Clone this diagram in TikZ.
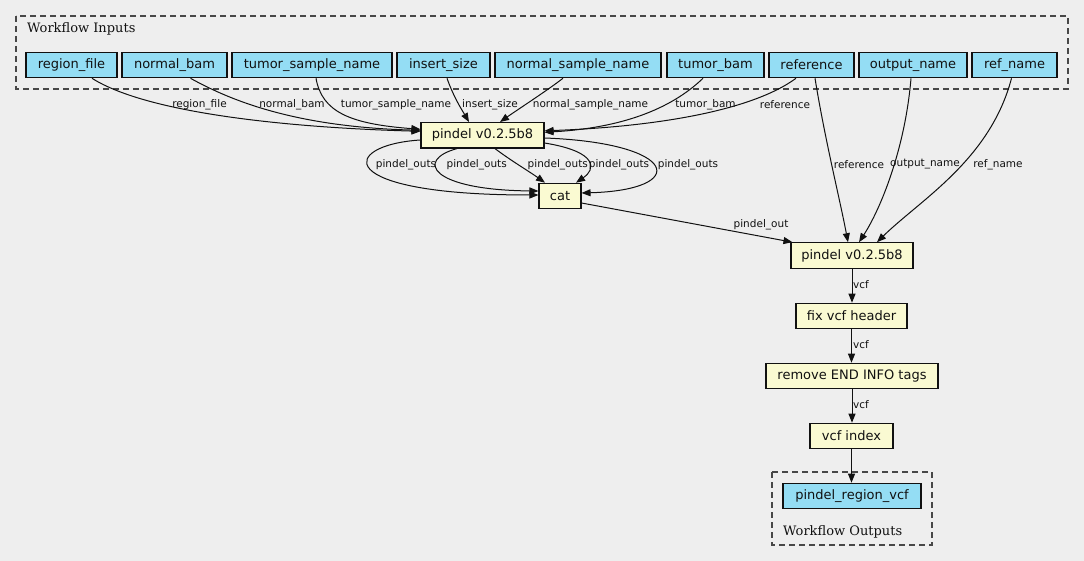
\documentclass[tikz,border=0pt]{standalone}
\usepackage{fontspec}
\setmainfont{DejaVu Sans}
\newfontfamily\titlefont{DejaVu Serif}
\usetikzlibrary{arrows.meta}
\definecolor{bg}{HTML}{EEEEEE}
\definecolor{inp}{HTML}{94DDF4}
\definecolor{proc}{HTML}{FAFAD2}
\definecolor{ink}{HTML}{111111}
\begin{document}
\begin{tikzpicture}[x=1pt,y=-1pt,
  box/.style={draw=ink,line width=1.1pt,minimum height=25.5pt,inner sep=0pt,text=ink,
    font=\fontsize{13}{15}\selectfont,anchor=center},
  inbox/.style={box,fill=inp},
  procbox/.style={box,fill=proc},
  cluster/.style={draw=black!72,dash pattern=on 6pt off 4pt,line width=1.2pt},
  ctitle/.style={font=\titlefont\fontsize{13}{15}\selectfont,anchor=base west,inner sep=0pt,text=ink},
  lab/.style={font=\fontsize{10.5}{12}\selectfont,inner sep=0pt,text=ink},
  conn/.style={draw=ink,line width=1pt,-{Triangle[length=9pt,width=7pt]}}]
\fill[bg] (0,0) rectangle (1084,561);
\useasboundingbox (0,0) rectangle (1084,561);
% clusters
\draw[cluster] (16,16) rectangle (1068,89);
\node[ctitle] (tin) at (27,32.3) {Workflow Inputs};
\draw[cluster] (772,472) rectangle (932,545);
\node[ctitle] (tout) at (783,535.7) {Workflow Outputs};
% input nodes
\node[inbox,minimum width=91pt]  (rf)  at (71.5,65)  {region\_file};
\node[inbox,minimum width=105pt] (nb)  at (174.5,65) {normal\_bam};
\node[inbox,minimum width=160pt] (tsn) at (312,65)   {tumor\_sample\_name};
\node[inbox,minimum width=93pt]  (is)  at (443.5,65) {insert\_size};
\node[inbox,minimum width=166pt] (nsn) at (578,65)   {normal\_sample\_name};
\node[inbox,minimum width=97pt]  (tb)  at (715.5,65) {tumor\_bam};
\node[inbox,minimum width=85pt]  (ref) at (811.5,65) {reference};
\node[inbox,minimum width=108pt] (on)  at (913,65)   {output\_name};
\node[inbox,minimum width=85pt]  (rn)  at (1014.5,65) {ref\_name};
% process nodes
\node[procbox,minimum width=123pt] (p1)  at (482.5,135.3) {pindel v0.2.5b8};
\node[procbox,minimum width=42pt]  (cat) at (560,196)    {cat};
\node[procbox,minimum width=122pt] (p2)  at (852,255.5)  {pindel v0.2.5b8};
\node[procbox,minimum width=111pt] (fix) at (851.5,316)  {fix vcf header};
\node[procbox,minimum width=172pt] (rem) at (852,376)    {remove END INFO tags};
\node[procbox,minimum width=83pt]  (idx) at (851.5,436)  {vcf index};
\node[inbox,minimum width=138pt]   (out) at (852,496)    {pindel\_region\_vcf};
% inputs -> pindel 1
\draw[conn] ([xshift=20.5pt]rf.south) .. controls (150,115) and (300,128) .. ([yshift=4pt]p1.west);
\draw[conn] ([xshift=16pt]nb.south) .. controls (235,103) and (300,127) .. ([yshift=5pt]p1.west);
\draw[conn] ([xshift=4pt]tsn.south) .. controls (322,112) and (350,124) .. ([yshift=6pt]p1.west);
\draw[conn] ([xshift=3.5pt]is.south) .. controls (454,98) and (462,110) .. ([xshift=-13.5pt]p1.north);
\draw[conn] ([xshift=-15pt]nsn.south) .. controls (545,92) and (520,108) .. ([xshift=17.5pt]p1.north);
\draw[conn] ([xshift=-12.5pt]tb.south) .. controls (670,110) and (620,128) .. ([yshift=3pt]p1.east);
\draw[conn] ([xshift=-15.5pt]ref.south) .. controls (750,112) and (650,127) .. ([yshift=4.5pt]p1.east);
% inputs -> pindel 2
\draw[conn] ([xshift=3.5pt]ref.south) .. controls (825,140) and (840,200) .. ([xshift=-4pt]p2.north);
\draw[conn] ([xshift=-2pt]on.south) .. controls (905,150) and (880,210) .. ([xshift=7pt]p2.north);
\draw[conn] ([xshift=-3pt]rn.south) .. controls (990,160) and (920,200) .. ([xshift=25pt]p2.north);
% pindel 1 -> cat
\draw[conn] ([yshift=-4.7pt]p1.west) .. controls (340,145) and (330,195) .. ([yshift=1pt]cat.west);
\draw[conn] ([xshift=-25.5pt]p1.south) .. controls (415,160) and (430,190) .. ([yshift=5pt]cat.west);
\draw[conn] ([xshift=12.5pt]p1.south) .. controls (510,160) and (530,172) .. ([xshift=-15pt]cat.north);
\draw[conn] ([yshift=-7.7pt]p1.east) .. controls (600,152) and (595,170) .. ([xshift=16pt]cat.north);
\draw[conn] ([yshift=-2.7pt]p1.east) .. controls (680,143) and (690,190) .. ([yshift=3pt]cat.east);
% cat -> pindel 2
\draw[conn] ([yshift=-7pt]cat.east) -- ([xshift=2pt]p2.north west);
% chain
\draw[conn] (p2.south) -- (p2.south |- fix.north);
\draw[conn] (fix.south) -- (fix.south |- rem.north);
\draw[conn] (rem.south) -- (rem.south |- idx.north);
\draw[conn] (idx.south) -- (idx.south |- out.north);
% edge labels
\node[lab] (l1) at (199.5,105) {region\_file};
\node[lab] (l2) at (292,105) {normal\_bam};
\node[lab] (l3) at (396,105) {tumor\_sample\_name};
\node[lab] (l4) at (490,105) {insert\_size};
\node[lab] (l5) at (590.5,105) {normal\_sample\_name};
\node[lab] (l6) at (705.5,105) {tumor\_bam};
\node[lab] (l7) at (785,105) {reference};
\node[lab] (l8) at (859,164.5) {reference};
\node[lab] (l9) at (925,164.5) {output\_name};
\node[lab] (l10) at (998,164.5) {ref\_name};
\node[lab] (o1) at (406,165) {pindel\_outs};
\node[lab] (o2) at (476.7,165) {pindel\_outs};
\node[lab] (o3) at (557.8,165) {pindel\_outs};
\node[lab] (o4) at (619,165) {pindel\_outs};
\node[lab] (o5) at (688,165) {pindel\_outs};
\node[lab] (po) at (761,225) {pindel\_out};
\node[lab,anchor=west] (v1) at (853,285) {vcf};
\node[lab,anchor=west] (v2) at (853,345) {vcf};
\node[lab,anchor=west] (v3) at (853,405) {vcf};
\end{tikzpicture}
\end{document}
